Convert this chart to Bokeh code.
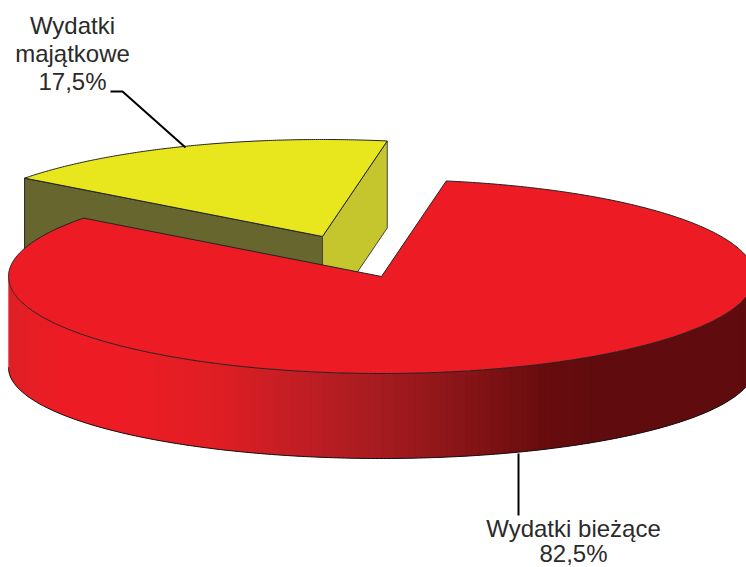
import numpy as np
from bokeh.plotting import figure
from bokeh.models import Range1d
from bokeh.core.properties import value
from bokeh.embed import file_html
from bokeh.resources import INLINE

# data
categories = ["Wydatki bieżące", "Wydatki majątkowe"]
shares = [82.5, 17.5]
share_labels = ["82,5%", "17,5%"]
red_first_angle = 80.0

# wall shading stops
stop_x = [8, 30, 60, 130, 220, 300, 373, 470, 540, 590, 746]
stop_rgb = [
    (220, 32, 39), (230, 30, 37), (237, 28, 36), (237, 28, 36), (222, 30, 36),
    (192, 30, 36), (168, 28, 32), (133, 20, 22), (105, 12, 14), (96, 12, 14), (96, 12, 14),
]

# pie geometry, in page pixels
CX, CY, A, B, DEPTH = 381.0, 276.0, 373.0, 97.0, 87.0
FLOOR_CY, FLOOR_B = 367.0, 91.0
EXPLODE = (-59.0, -40.0)
RED, YELLOW, OLIVE, KHAKI = "#ED1C24", "#E8E61C", "#67662E", "#C5C52E"
EDGE = "#222222"
INK = "#2B2A29"
W, H = 746, 567


def rim(t0, t1, n=200, dx=0.0, dy=0.0, drop=0.0):
    t = np.radians(np.linspace(t0, t1, n))
    return CX + dx + A * np.cos(t), CY + dy - B * np.sin(t) + drop


def floor_y(t0, t1, n):
    t = np.radians(np.linspace(t0, t1, n))
    return FLOOR_CY - FLOOR_B * np.sin(t)


gap = shares[1] / sum(shares) * 360.0
y_start, y_end = red_first_angle, red_first_angle + gap

p = figure(width=W, height=H, x_range=Range1d(0, W), y_range=Range1d(H, 0),
           output_backend="svg", toolbar_location=None, min_border=0,
           x_axis_location=None, y_axis_location=None, outline_line_color=None)
p.grid.visible = False
p.background_fill_color = "white"

# exploded yellow slice
ax, ay = CX + EXPLODE[0], CY + EXPLODE[1]
yx, yy = rim(y_start, y_end, dx=EXPLODE[0], dy=EXPLODE[1])
p.patch([ax, yx[-1], yx[-1], ax], [ay, yy[-1], yy[-1] + DEPTH, ay + DEPTH],
        fill_color=OLIVE, line_color=EDGE, line_width=1)
p.patch([ax, yx[0], yx[0], ax], [ay, yy[0], yy[0] + DEPTH, ay + DEPTH],
        fill_color=KHAKI, line_color="#444444", line_width=1)
p.patch(np.r_[ax, yx], np.r_[ay, yy], fill_color=YELLOW, line_color=EDGE, line_width=1)

# red wall: each strip overlaps the next one, so no seams show
edges = np.linspace(180, 360, 181)
xs, ys, cols = [], [], []
for i in range(len(edges) - 1):
    a0 = edges[i]
    a1 = edges[min(i + 2, len(edges) - 1)]
    wx, wy = rim(a0, a1, n=4)
    xs.append(list(wx) + list(wx[::-1]))
    ys.append(list(wy) + list(floor_y(a0, a1, 4)[::-1]))
    mid = rim(edges[i], edges[i + 1], n=3)[0][1]
    c = [int(round(np.interp(mid, stop_x, [s[j] for s in stop_rgb]))) for j in range(3)]
    cols.append("#%02X%02X%02X" % tuple(c))
p.patches(xs, ys, fill_color=cols, line_color=None)

lx, _ = rim(180, 360, n=300)
p.line(lx, floor_y(180, 360, 300), line_color="#111111", line_width=1)

# red top
rx, ry = rim(y_end, y_start + 360, n=500)
p.patch(np.r_[CX, rx], np.r_[CY, ry], fill_color=RED, line_color=EDGE, line_width=1)

# leader lines
p.line([110, 122, 185], [91, 91, 147], line_color="black", line_width=2)
p.line([518, 518], [453, 515], line_color="black", line_width=2)

# labels
label_x = [72, 72, 72, 573, 573]
label_y = [25, 53, 81, 528, 553]
label_t = ["Wydatki", "majątkowe", share_labels[1], categories[0], share_labels[0]]
p.text(label_x, label_y, text=label_t, text_font=value("Liberation Sans"), text_font_size="24px",
       text_color=INK, text_align="center", text_baseline="middle")

open("out.html", "w").write(file_html(p, INLINE))
